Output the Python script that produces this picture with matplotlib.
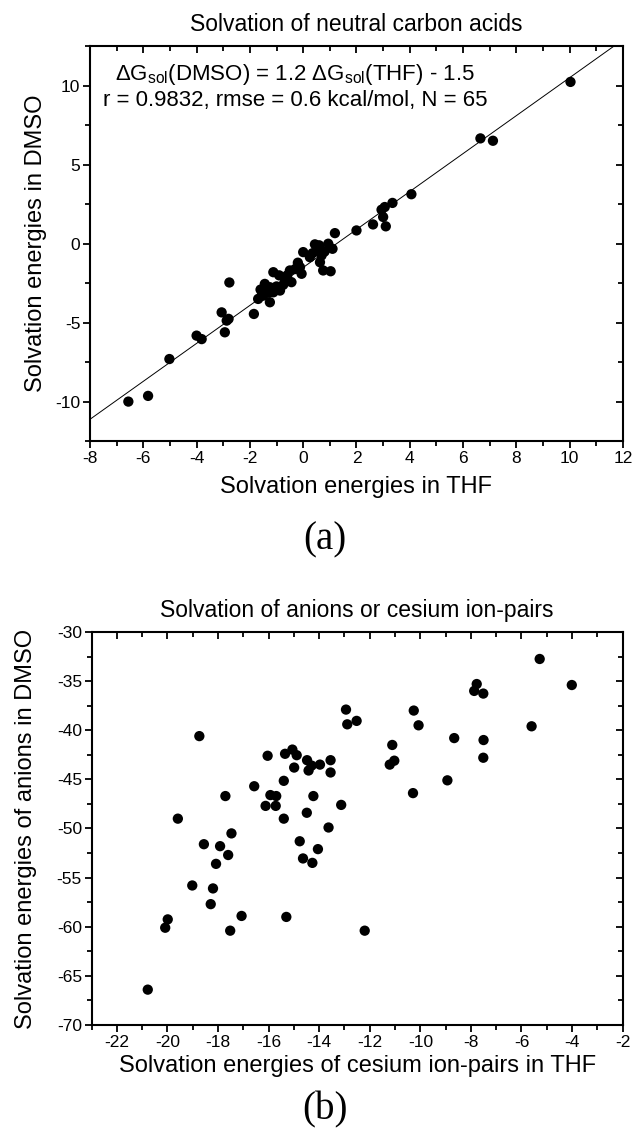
import matplotlib
matplotlib.use('Agg')
import matplotlib.pyplot as plt
from matplotlib.ticker import MultipleLocator
import numpy as np

plt.rcParams['font.family'] = ['Liberation Sans', 'DejaVu Sans']
plt.rcParams['mathtext.fontset'] = 'custom'
plt.rcParams['mathtext.rm'] = 'Liberation Sans'
plt.rcParams['mathtext.it'] = 'Liberation Sans:italic'
plt.rcParams['axes.unicode_minus'] = False

# panel (a): neutral carbon acids
thf_a = [10.03, 6.65, 7.12, 4.06, 3.35, 3.06, 2.94, 3.0, 2.62, 3.10, 2.0, 1.19,
         1.1, 1.03, 0.94, 0.44, 0.0, 0.69, 0.63, 0.75, 0.25, -0.12, -0.06, -0.5,
         -1.12, -0.69, -0.44, -1.44, -1.25, -1.12, -1.5, -1.69, -0.87, -1.25,
         -0.75, 0.56, 0.35, -0.3, -0.9, -1.0, -1.3, -6.56, -5.82, -5.02, -4.0,
         -3.81, -3.06, -2.87, -2.94, -1.85, -2.8, -2.77, -1.56, 0.6, 0.8, -0.2,
         -0.6, -1.6]
dmso_a = [10.23, 6.66, 6.51, 3.13, 2.58, 2.32, 2.15, 1.69, 1.22, 1.10, 0.84, 0.67,
          -0.32, -1.74, 0.0, -0.04, -0.53, -0.74, -1.17, -1.69, -0.85, -1.48, -1.9,
          -1.69, -1.8, -2.22, -2.43, -2.54, -2.75, -3.07, -3.28, -3.49, -2.96, -3.7,
          -2.6, -0.3, -0.6, -1.6, -2.0, -2.7, -3.1, -9.98, -9.62, -7.29, -5.81,
          -6.03, -4.34, -4.86, -5.6, -4.44, -4.75, -2.45, -3.28, -0.1, -0.5, -1.2,
          -2.0, -2.9]
slope, intercept = 1.2, -1.5

# panel (b): anions / cesium ion-pairs
thf_b = [-12.94, -12.89, -18.74, -16.04, -15.35, -15.06, -14.89, -14.99, -14.48,
         -14.42, -14.3, -13.97, -13.55, -13.55, -15.40, -16.57, -17.71, -15.93,
         -15.70, -16.12, -15.72, -15.40, -14.23, -14.49, -13.13, -19.59, -13.63,
         -17.47, -18.56, -17.92, -17.60, -18.08, -14.77, -14.05, -14.64, -14.27,
         -19.02, -18.20, -18.29, -19.99, -20.09, -17.07, -17.52, -15.30, -20.78,
         -12.52, -10.26, -10.07, -11.11, -11.21, -11.03, -10.29, -8.66, -8.93,
         -7.50, -7.51, -5.6, -12.2, -5.28, -4.01, -7.77, -7.87, -7.51]
dmso_b = [-37.9, -39.4, -40.6, -42.6, -42.4, -41.97, -42.54, -43.8, -43.05, -44.1,
          -43.6, -43.5, -43.05, -44.3, -45.15, -45.7, -46.7, -46.6, -46.7, -47.7,
          -47.7, -49.0, -46.7, -48.4, -47.6, -49.0, -49.9, -50.5, -51.6, -51.8,
          -52.7, -53.6, -51.3, -52.1, -53.05, -53.5, -55.8, -56.1, -57.7, -59.25,
          -60.1, -58.9, -60.4, -59.0, -66.4, -39.05, -38.0, -39.5, -41.5, -43.5,
          -43.1, -46.4, -40.8, -45.1, -41.0, -42.8, -39.6, -60.4, -32.75, -35.4,
          -35.3, -36.0, -36.27]

fig = plt.figure(figsize=(6.35, 11.36), dpi=100)
ax1 = fig.add_axes([0.1417, 0.6114, 0.8394, 0.3481])
ax2 = fig.add_axes([0.1443, 0.0977, 0.8362, 0.3460])


def style(ax):
    for s in ax.spines.values():
        s.set_linewidth(1.5)
    ax.tick_params(which='both', direction='out', width=1.3, labelsize=12.5,
                   top=True, right=True, pad=2)
    ax.tick_params(which='major', length=5)
    ax.tick_params(which='minor', length=3.5)
    # top and right ticks point inward
    for t in ax.xaxis.get_ticklines(minor=False)[1::2] + ax.xaxis.get_ticklines(minor=True)[1::2]:
        t.set_marker(3)
    for t in ax.yaxis.get_ticklines(minor=False)[1::2] + ax.yaxis.get_ticklines(minor=True)[1::2]:
        t.set_marker(0)


ax1.scatter(thf_a, dmso_a, s=55, c='black', edgecolors='none', zorder=3)
xl = np.array([-8, 12])
ax1.plot(xl, slope * xl + intercept, color='black', lw=0.7, zorder=2)
ax1.set_xlim(-8, 12)
ax1.set_ylim(-12.5, 12.5)
ax1.xaxis.set_major_locator(MultipleLocator(2))
ax1.xaxis.set_minor_locator(MultipleLocator(1))
ax1.yaxis.set_major_locator(MultipleLocator(5))
ax1.yaxis.set_minor_locator(MultipleLocator(2.5))
style(ax1)
ax1.set_title('Solvation of neutral carbon acids', fontsize=16.5, pad=11)
ax1.set_xlabel('Solvation energies in THF', fontsize=17, labelpad=7)
ax1.set_ylabel('Solvation energies in DMSO', fontsize=17, labelpad=6)
ax1.text(0.385, 0.927, '\u0394G$_{\\rm sol}$(DMSO) = 1.2 \u0394G$_{\\rm sol}$(THF) - 1.5',
         transform=ax1.transAxes, ha='center', va='center', fontsize=16)
ax1.text(0.385, 0.862, 'r = 0.9832, rmse = 0.6 kcal/mol, N = 65',
         transform=ax1.transAxes, ha='center', va='center', fontsize=16)

ax2.scatter(thf_b, dmso_b, s=55, c='black', edgecolors='none', zorder=3)
ax2.set_xlim(-23, -2)
ax2.set_ylim(-70, -30)
ax2.xaxis.set_major_locator(MultipleLocator(2))
ax2.xaxis.set_minor_locator(MultipleLocator(1))
ax2.yaxis.set_major_locator(MultipleLocator(5))
ax2.yaxis.set_minor_locator(MultipleLocator(2.5))
style(ax2)
ax2.set_title('Solvation of anions or cesium ion-pairs', fontsize=16.5, pad=11)
ax2.set_xlabel('Solvation energies of cesium ion-pairs in THF', fontsize=17, labelpad=4)
ax2.set_ylabel('Solvation energies of anions in DMSO', fontsize=17, labelpad=14)

fig.text(325 / 635, 1 - 540 / 1136, '(a)', ha='center', va='center', fontsize=28,
         family='Liberation Serif')
fig.text(325 / 635, 1 - 1110 / 1136, '(b)', ha='center', va='center', fontsize=28,
         family='Liberation Serif')

fig.savefig('out.png', dpi=100)
